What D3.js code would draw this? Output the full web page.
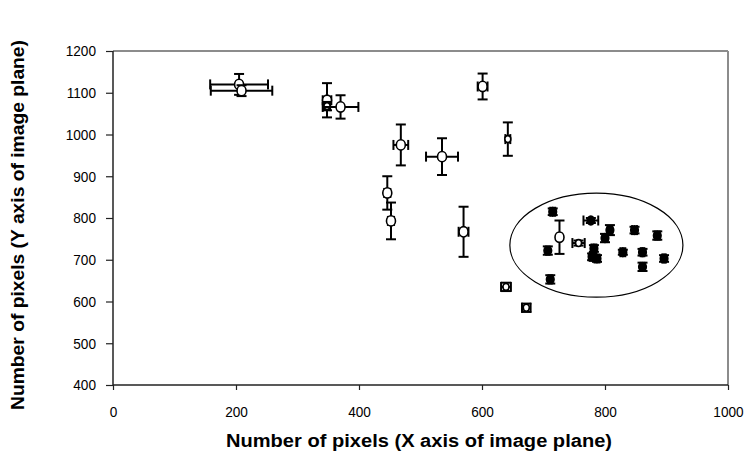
<!DOCTYPE html>
<html><head><meta charset="utf-8">
<script src="https://cdn.jsdelivr.net/npm/d3@7"></script>
<style>body{margin:0;background:#fff;} svg{display:block;} text{font-family:"Liberation Sans",Arial,sans-serif;}</style>
</head><body>
<svg id="c" width="745" height="459"></svg>
<script>
// Open markers: x, y, x error, y error, marker size class
const openX    = [205, 209, 348, 348, 370, 468, 535, 601, 642, 446, 452, 570, 726, 757, 639, 672];
const openY    = [1120,1105,1082,1068,1066, 975, 947,1115, 989, 860, 793, 767, 754, 740, 635, 585];
const openXErr = [ 47,  50,   7,   5,  29,  12,  26,   8,   4,   5,   5,   8,   3,  10,   8,   7];
const openYErr = [ 25,  13,  41,  10,  28,  49,  44,  31,  40,  40,  44,  60,  40,   6,  10,  10];
const openSize = ["L","L","L","S","L","L","L","L","S","L","L","L","L","S","S","S"];
// Filled markers
const fillX    = [715, 777, 808, 800, 848, 885, 707, 782, 779, 787, 829, 861, 861, 896, 711];
const fillY    = [815, 794, 771, 752, 771, 758, 722, 727, 707, 703, 718, 718, 683, 703, 653];
const fillXErr = [  4,  12,   4,   4,   4,   4,   3,   4,   4,   4,   4,   3,   3,   3,   3];
const fillYErr = [  8,   6,  12,  10,   8,  10,  10,   8,   8,   8,   6,   8,  10,   8,  10];
const xTicks = [0, 200, 400, 600, 800, 1000];
const yTicks = [400, 500, 600, 700, 800, 900, 1000, 1100, 1200];
const ellipse = {cx: 786, cy: 735, rx: 140.7, ry: 124.5};

const svg = d3.select("#c");
const L = 113, R = 728, T = 51, B = 385;
const x = d3.scaleLinear().domain([0, 1000]).range([L, R]);
const y = d3.scaleLinear().domain([400, 1200]).range([B, T]);
const SX = 0.88; // narrow glyphs

svg.append("line").attr("x1", L).attr("x2", R).attr("y1", T).attr("y2", T).attr("stroke", "#8c8c8c").attr("stroke-width", 2);
svg.append("line").attr("x1", R).attr("x2", R).attr("y1", T).attr("y2", B).attr("stroke", "#8c8c8c").attr("stroke-width", 2);

const yAxis = svg.append("g").attr("transform", `translate(${L},0)`)
  .call(d3.axisLeft(y).tickValues(yTicks).tickSize(7).tickPadding(9).tickFormat(d3.format("d")));
const xAxis = svg.append("g").attr("transform", `translate(0,${B})`)
  .call(d3.axisBottom(x).tickValues(xTicks).tickSize(5).tickPadding(16).tickFormat(d3.format("d")));
[yAxis, xAxis].forEach(a => {
  a.select(".domain").attr("stroke", "#222").attr("stroke-width", 1.5);
  a.selectAll(".tick line").attr("stroke", "#222").attr("stroke-width", 1.2);
  a.selectAll("text").attr("font-size", 15.5).attr("fill", "#000").attr("font-family", "Liberation Sans, Arial, sans-serif")
    .attr("transform", `scale(${SX},1)`);
});
yAxis.selectAll(".tick text").attr("x", -17 / SX);
xAxis.select(".domain").attr("d", `M${L},0H${R}`);
yAxis.select(".domain").attr("d", `M0,${T}V${B}`);

svg.append("ellipse")
  .attr("cx", x(ellipse.cx)).attr("cy", y(ellipse.cy))
  .attr("rx", x(ellipse.cx + ellipse.rx) - x(ellipse.cx))
  .attr("ry", y(ellipse.cy) - y(ellipse.cy + ellipse.ry))
  .attr("fill", "none").attr("stroke", "#000").attr("stroke-width", 1.2);

function drawPoint(px, py, ex, ey, filled, r) {
  const g = svg.append("g");
  const cap = 5;
  const ln = (x1, y1, x2, y2) => g.append("line").attr("x1", x1).attr("y1", y1).attr("x2", x2).attr("y2", y2)
    .attr("stroke", "#000").attr("stroke-width", 2);
  ln(x(px - ex), y(py), x(px + ex), y(py));
  ln(x(px - ex), y(py) - cap, x(px - ex), y(py) + cap);
  ln(x(px + ex), y(py) - cap, x(px + ex), y(py) + cap);
  ln(x(px), y(py - ey), x(px), y(py + ey));
  ln(x(px) - cap, y(py - ey), x(px) + cap, y(py - ey));
  ln(x(px) - cap, y(py + ey), x(px) + cap, y(py + ey));
  g.append("ellipse").attr("cx", x(px)).attr("cy", y(py)).attr("rx", r).attr("ry", r * 1.15)
    .attr("fill", filled ? "#000" : "#fff").attr("stroke", "#000").attr("stroke-width", 1.6);
}
openX.forEach((v, i) => drawPoint(v, openY[i], openXErr[i], openYErr[i], false, openSize[i] === "L" ? 4.5 : 3));
fillX.forEach((v, i) => drawPoint(v, fillY[i], fillXErr[i], fillYErr[i], true, 3.8));

svg.append("text").attr("x", 419).attr("y", 447).attr("text-anchor", "middle")
  .attr("font-size", 18).attr("font-weight", "bold")
  .attr("textLength", 386).attr("lengthAdjust", "spacingAndGlyphs")
  .text("Number of pixels (X axis of image plane)");
svg.append("text").attr("transform", "translate(24,225) rotate(-90)").attr("text-anchor", "middle")
  .attr("font-size", 18).attr("font-weight", "bold")
  .attr("textLength", 370).attr("lengthAdjust", "spacingAndGlyphs")
  .text("Number of pixels (Y axis of image plane)");
</script>
</body></html>
